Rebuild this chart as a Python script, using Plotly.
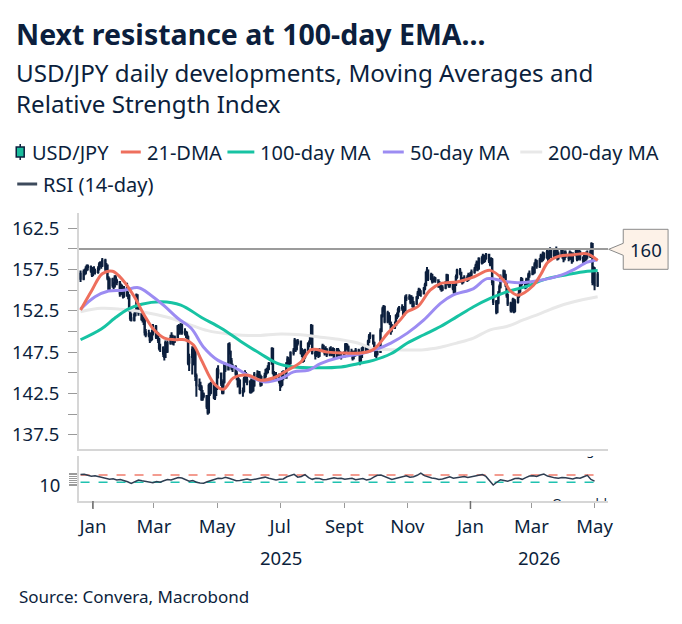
import pandas as pd
import plotly.graph_objects as go

# ---------------- DATA ----------------
# USD/JPY daily closes / highs / lows (business days from 2024-12-20), grouped by week
close_weeks = [
    [156.4],
    [157.2, 157.1, 157.6, 157.9, 157.8],
    [157.4, 156.9, 157.5, 157.3, 157.2],
    [157.6, 158.1, 158.3, 158.0, 158.6],
    [157.6, 158.0, 156.5, 155.2, 156.3],
    [155.6, 155.5, 156.5, 156.1, 156.0],
    [154.6, 155.5, 155.2, 154.3, 155.2],
    [154.4, 154.3, 152.6, 151.6, 151.4],
    [152.0, 152.4, 154.4, 152.8, 152.3],
    [151.5, 151.4, 151.5, 149.9, 149.6],
    [149.7, 149.0, 149.1, 149.8, 150.6],
    [149.4, 149.6, 149.0, 148.0, 148.0],
    [147.3, 146.9, 148.6, 147.6, 148.6],
    [149.2, 149.4, 148.7, 148.8, 149.3],
    [150.6, 149.9, 150.6, 151.0, 149.9],
    [149.8, 149.6, 149.3, 146.2, 146.9],
    [147.8, 146.3, 147.7, 144.6, 143.5],
    [143.4, 143.2, 141.8, 142.4, 142.2],
    [140.9, 140.2, 143.4, 142.6, 143.6],
    [142.0, 142.3, 143.1, 145.3, 144.9],
    [143.7, 142.6, 143.9, 145.9, 145.4],
    [148.4, 147.5, 146.4, 145.6, 145.7],
    [144.9, 144.5, 143.6, 144.0, 142.6],
    [142.8, 144.2, 144.8, 144.1, 143.9],
    [142.7, 143.9, 142.9, 143.5, 144.8],
    [144.6, 144.9, 144.6, 143.6, 144.1],
    [144.6, 145.3, 145.1, 145.5, 146.1],
    [147.9, 145.0, 144.3, 144.6, 144.7],
    [144.0, 143.5, 143.6, 144.9, 144.4],
    [146.1, 146.6, 146.3, 146.2, 147.4],
    [147.7, 148.9, 147.9, 148.6, 148.8],
    [147.4, 147.7, 146.6, 146.9, 147.7],
    [148.5, 148.5, 149.4, 150.7, 147.4],
    [147.1, 147.6, 147.4, 147.1, 147.7],
    [148.2, 147.8, 147.4, 147.8, 147.2],
    [147.8, 147.7, 147.3, 147.8, 146.9],
    [147.8, 147.4, 147.4, 147.0, 147.0],
    [147.4, 148.4, 148.1, 148.1, 147.4],
    [147.5, 146.8, 147.4, 147.2, 147.7],
    [147.4, 146.5, 146.9, 147.9, 148.0],
    [147.7, 147.9, 148.8, 149.4, 149.5],
    [148.6, 147.8, 147.1, 147.3, 147.5],
    [150.1, 151.9, 152.7, 153.0, 151.2],
    [152.2, 151.8, 151.0, 150.4, 150.6],
    [150.8, 151.9, 151.9, 152.6, 152.8],
    [152.9, 152.1, 152.6, 154.1, 154.0],
    [154.2, 153.6, 154.1, 153.1, 153.4],
    [154.1, 154.6, 155.0, 154.6, 154.6],
    [155.2, 155.6, 157.1, 157.4, 156.4],
    [156.8, 156.1, 156.2, 156.4, 156.2],
    [155.5, 155.8, 155.3, 155.1, 155.3],
    [155.9, 156.8, 155.9, 155.6, 155.8],
    [155.3, 154.8, 155.7, 156.6, 157.4],
    [157.1, 156.2, 156.0, 156.3, 156.5],
    [156.3, 156.8, 156.6, 156.9, 157.2],
    [157.5, 157.9, 158.3, 157.6, 158.8],
    [158.4, 159.1, 158.6, 158.9, 159.3],
    [158.6, 158.2, 158.7, 156.0, 153.6],
    [152.4, 153.5, 154.6, 155.4, 156.6],
    [157.3, 156.8, 155.7, 154.4, 153.4],
    [152.6, 152.9, 153.8, 152.5, 153.6],
    [154.3, 154.9, 155.6, 156.3, 155.9],
    [155.4, 156.2, 155.9, 156.8, 157.0],
    [157.6, 157.2, 158.1, 158.5, 157.9],
    [158.6, 159.1, 158.7, 159.4, 159.0],
    [159.6, 158.8, 159.5, 159.9, 159.2],
    [159.7, 159.3, 159.9, 158.9, 159.4],
    [159.8, 159.1, 158.8, 159.5, 159.2],
    [158.9, 159.5, 159.0, 158.6, 159.3],
    [159.7, 158.8, 159.2, 159.6, 158.9],
    [158.6, 159.3, 158.8, 159.4, 159.1],
    [159.6, 160.6, 156.0, 157.6, 155.6],
    [156.9],
]
high_weeks = [
    [157.4],
    [157.5, 157.6, 157.9, 158.1, 158.1],
    [158.0, 157.6, 157.8, 157.9, 157.6],
    [157.9, 158.4, 158.5, 158.4, 158.9],
    [158.8, 158.3, 158.1, 156.7, 156.5],
    [156.5, 156.0, 156.8, 156.8, 156.4],
    [156.1, 155.8, 155.7, 155.4, 155.5],
    [155.9, 154.8, 154.5, 152.9, 152.2],
    [152.3, 152.7, 154.6, 154.5, 153.1],
    [152.4, 152.0, 151.8, 151.6, 150.3],
    [150.2, 149.9, 149.6, 150.2, 150.9],
    [150.8, 150.0, 149.9, 149.2, 148.5],
    [148.2, 147.9, 148.9, 148.7, 148.9],
    [149.6, 149.9, 149.6, 149.2, 149.5],
    [150.8, 150.9, 150.8, 151.2, 151.1],
    [150.4, 150.1, 150.0, 149.5, 147.3],
    [148.2, 148.1, 148.2, 147.9, 144.9],
    [144.3, 143.9, 143.5, 142.9, 142.6],
    [142.3, 141.5, 143.7, 143.8, 143.9],
    [143.7, 142.7, 143.5, 145.6, 145.9],
    [145.0, 143.9, 144.2, 146.2, 146.2],
    [148.6, 148.7, 147.7, 146.8, 146.1],
    [145.9, 145.2, 144.7, 144.4, 144.2],
    [143.2, 144.5, 145.3, 145.1, 144.6],
    [144.1, 144.3, 144.2, 144.0, 145.1],
    [145.3, 145.2, 145.2, 144.8, 144.6],
    [145.0, 145.5, 145.6, 145.9, 146.3],
    [148.1, 148.0, 145.2, 145.0, 145.1],
    [144.9, 144.2, 144.1, 145.2, 145.3],
    [146.3, 147.0, 146.9, 146.7, 147.6],
    [148.0, 149.2, 149.0, 148.8, 149.1],
    [148.9, 148.0, 147.8, 147.2, 147.9],
    [148.7, 148.9, 149.6, 150.9, 150.8],
    [147.7, 147.8, 147.9, 147.6, 148.0],
    [148.5, 148.4, 148.0, 148.2, 148.0],
    [148.1, 148.2, 147.9, 148.1, 148.0],
    [148.0, 148.0, 147.8, 147.6, 147.5],
    [147.6, 148.6, 148.6, 148.5, 148.3],
    [147.9, 147.7, 147.6, 147.7, 148.0],
    [147.9, 147.6, 147.1, 148.1, 148.3],
    [148.2, 148.2, 149.0, 149.7, 149.9],
    [149.6, 148.8, 148.0, 147.6, 147.9],
    [150.4, 152.1, 153.0, 153.2, 153.1],
    [152.5, 152.3, 152.0, 151.2, 150.9],
    [151.2, 152.1, 152.3, 152.9, 153.1],
    [153.3, 153.1, 152.9, 154.4, 154.5],
    [154.5, 154.4, 154.4, 154.2, 153.7],
    [154.3, 154.9, 155.3, 155.2, 155.0],
    [155.4, 155.9, 157.3, 157.8, 157.5],
    [157.1, 157.0, 156.5, 156.7, 156.6],
    [156.3, 156.1, 155.9, 155.6, 155.6],
    [156.1, 157.0, 156.9, 156.1, 156.1],
    [155.9, 155.5, 155.9, 156.9, 157.6],
    [157.7, 157.2, 156.5, 156.6, 156.8],
    [156.8, 157.1, 157.0, 157.2, 157.5],
    [157.8, 158.2, 158.6, 158.5, 159.0],
    [159.1, 159.4, 159.3, 159.2, 159.5],
    [159.4, 158.9, 159.0, 158.9, 156.2],
    [153.8, 153.8, 154.9, 155.7, 156.9],
    [157.5, 157.4, 157.0, 155.9, 154.6],
    [153.6, 153.3, 154.1, 154.0, 153.9],
    [154.6, 155.2, 155.9, 156.6, 156.5],
    [156.1, 156.5, 156.4, 157.1, 157.4],
    [157.9, 157.8, 158.4, 158.8, 158.7],
    [158.9, 159.4, 159.3, 159.7, 159.6],
    [159.9, 159.8, 159.8, 160.2, 160.0],
    [160.0, 160.1, 160.3, 160.0, 159.7],
    [160.1, 160.0, 159.3, 159.8, 159.8],
    [159.4, 159.8, 159.7, 159.2, 159.6],
    [160.0, 159.9, 159.5, 159.9, 159.8],
    [159.1, 159.6, 159.5, 159.7, 159.8],
    [159.9, 160.8, 160.7, 157.9, 157.8],
    [157.2],
]
low_weeks = [
    [156.0],
    [156.2, 156.8, 156.9, 157.3, 157.4],
    [157.1, 156.6, 156.7, 157.0, 156.9],
    [157.0, 157.4, 157.8, 157.6, 157.8],
    [157.3, 157.2, 156.2, 154.9, 155.0],
    [155.3, 155.1, 155.3, 155.8, 155.6],
    [154.2, 154.4, 154.9, 154.0, 154.1],
    [154.2, 153.9, 152.4, 151.3, 151.2],
    [151.2, 151.8, 152.3, 152.6, 151.9],
    [151.3, 151.1, 150.8, 149.5, 149.3],
    [149.3, 148.6, 148.8, 148.9, 149.5],
    [149.1, 149.1, 148.6, 147.7, 147.5],
    [146.9, 146.5, 146.8, 147.4, 147.4],
    [148.4, 148.9, 148.4, 148.3, 148.6],
    [149.2, 149.7, 149.6, 150.4, 149.6],
    [149.5, 149.2, 148.9, 145.9, 145.2],
    [144.8, 145.9, 145.9, 144.0, 142.1],
    [142.9, 142.8, 141.6, 141.6, 141.9],
    [140.6, 139.9, 140.2, 142.2, 142.4],
    [141.8, 141.7, 142.2, 142.9, 144.3],
    [143.4, 142.4, 142.4, 143.7, 145.1],
    [145.3, 147.2, 146.1, 145.3, 145.1],
    [144.6, 144.1, 143.2, 143.3, 142.4],
    [142.1, 142.6, 144.0, 143.8, 143.5],
    [142.5, 142.5, 142.6, 142.7, 143.3],
    [144.3, 144.3, 144.2, 143.3, 143.4],
    [143.9, 144.4, 144.8, 144.9, 145.3],
    [146.0, 144.8, 143.9, 144.0, 144.2],
    [143.7, 142.8, 143.2, 143.4, 144.1],
    [144.3, 145.9, 145.9, 145.8, 146.0],
    [147.1, 147.6, 147.5, 147.7, 148.3],
    [147.2, 146.9, 146.2, 146.3, 146.7],
    [147.6, 148.1, 148.4, 149.3, 147.2],
    [146.6, 146.9, 147.1, 146.8, 146.9],
    [147.5, 147.5, 147.1, 147.2, 146.9],
    [147.0, 147.4, 147.0, 147.1, 146.7],
    [146.8, 147.1, 147.0, 146.7, 146.6],
    [146.8, 147.3, 147.8, 147.7, 147.2],
    [147.1, 146.5, 146.6, 146.9, 147.0],
    [147.1, 145.9, 146.3, 146.8, 147.6],
    [147.4, 147.5, 147.8, 148.6, 149.1],
    [148.4, 147.6, 146.9, 146.8, 147.1],
    [147.4, 149.9, 151.7, 152.4, 151.0],
    [151.0, 151.4, 150.8, 149.6, 149.9],
    [150.3, 150.7, 151.5, 151.7, 152.3],
    [152.5, 151.8, 151.9, 152.5, 153.7],
    [153.8, 153.3, 153.4, 152.9, 152.8],
    [153.2, 153.9, 154.4, 154.3, 154.2],
    [154.5, 155.0, 155.5, 156.9, 156.1],
    [156.2, 155.8, 155.9, 156.0, 155.9],
    [155.3, 155.3, 155.0, 154.8, 154.9],
    [155.1, 155.7, 155.6, 155.3, 155.3],
    [155.0, 154.5, 154.6, 155.5, 156.4],
    [156.8, 155.9, 155.7, 155.8, 156.1],
    [156.0, 156.1, 156.3, 156.4, 156.7],
    [157.0, 157.3, 157.7, 157.3, 157.5],
    [158.1, 158.2, 158.3, 158.4, 158.7],
    [158.3, 157.9, 158.0, 155.6, 153.2],
    [152.1, 152.2, 153.3, 154.4, 155.2],
    [156.4, 156.5, 155.4, 154.1, 153.1],
    [152.3, 152.3, 152.7, 152.2, 152.3],
    [153.4, 154.1, 154.7, 155.4, 155.6],
    [155.1, 155.2, 155.6, 155.7, 156.5],
    [156.8, 156.9, 157.0, 157.9, 157.6],
    [157.7, 158.4, 158.4, 158.5, 158.7],
    [158.8, 158.5, 158.6, 159.3, 158.9],
    [159.0, 159.0, 159.1, 158.6, 158.7],
    [159.2, 158.8, 158.4, 158.6, 158.9],
    [158.5, 158.7, 158.7, 158.2, 158.4],
    [159.1, 158.5, 158.6, 159.0, 158.6],
    [158.1, 158.4, 158.5, 158.6, 158.8],
    [158.9, 159.4, 155.6, 155.7, 155.0],
    [155.4],
]
first_open = 157.0

ma21_dates = ["2024-12-20", "2024-12-31", "2025-01-10", "2025-01-20", "2025-01-30", "2025-02-10",
              "2025-02-20", "2025-03-01", "2025-03-11", "2025-03-21", "2025-03-31", "2025-04-08",
              "2025-04-16", "2025-04-28", "2025-05-07", "2025-05-17", "2025-05-31", "2025-06-12",
              "2025-06-25", "2025-07-08", "2025-07-21", "2025-07-31", "2025-08-16", "2025-08-29",
              "2025-09-17", "2025-09-29", "2025-10-13", "2025-10-25", "2025-11-01", "2025-11-11",
              "2025-11-23", "2025-12-03", "2025-12-19", "2026-01-04", "2026-01-20", "2026-02-02",
              "2026-02-08", "2026-02-16", "2026-03-03", "2026-03-10", "2026-03-17", "2026-03-27",
              "2026-04-11", "2026-04-24", "2026-05-04"]
ma21_vals = [152.6, 155.0, 157.0, 157.3, 156.2, 154.2,
             151.9, 150.2, 149.2, 149.0, 149.0, 148.4,
             146.5, 143.7, 143.0, 144.4, 144.7, 144.1,
             144.4, 145.3, 146.3, 147.8, 147.5, 147.4,
             147.4, 147.8, 149.8, 151.4, 152.4, 153.0,
             155.0, 155.8, 156.0, 156.6, 157.4, 156.2,
             155.0, 154.4, 155.6, 156.9, 158.4, 159.1,
             159.3, 159.4, 158.6]

ma50_dates = ["2024-12-20", "2025-01-03", "2025-01-16", "2025-01-31", "2025-02-14", "2025-02-26",
              "2025-03-11", "2025-03-24", "2025-04-06", "2025-04-18", "2025-05-02", "2025-05-17",
              "2025-06-03", "2025-06-15", "2025-07-02", "2025-07-14", "2025-07-28", "2025-08-09",
              "2025-08-29", "2025-09-17", "2025-10-03", "2025-10-16", "2025-11-01", "2025-11-17",
              "2025-12-03", "2025-12-15", "2026-01-04", "2026-01-17", "2026-02-02", "2026-02-18",
              "2026-03-10", "2026-03-29", "2026-04-11", "2026-04-24", "2026-05-04"]
ma50_vals = [152.7, 154.2, 154.9, 155.0, 155.3, 154.4,
             153.1, 151.6, 150.4, 148.1, 146.5, 145.7,
             144.5, 143.9, 144.3, 145.1, 145.3, 146.1,
             146.9, 147.3, 147.9, 148.6, 149.8, 151.4,
             153.4, 154.4, 155.2, 156.4, 156.1, 155.9,
             156.2, 156.8, 157.5, 158.4, 158.7]

ma100_dates = ["2024-12-20", "2025-01-09", "2025-01-22", "2025-02-04", "2025-02-17", "2025-03-08",
               "2025-03-27", "2025-04-16", "2025-05-05", "2025-05-24", "2025-06-12", "2025-06-29",
               "2025-07-14", "2025-08-06", "2025-08-29", "2025-09-14", "2025-09-29", "2025-10-16",
               "2025-11-01", "2025-11-17", "2025-12-03", "2025-12-19", "2026-01-04", "2026-01-20",
               "2026-02-05", "2026-02-25", "2026-03-16", "2026-04-05", "2026-04-24", "2026-05-04"]
ma100_vals = [149.0, 150.3, 151.6, 152.7, 153.3, 153.6,
              153.2, 151.7, 150.4, 148.8, 147.3, 146.1,
              145.7, 145.6, 145.7, 146.1, 146.5, 147.3,
              148.6, 149.6, 150.6, 151.8, 153.0, 154.0,
              154.8, 155.5, 156.4, 156.9, 157.3, 157.4]

ma200_dates = ["2024-12-20", "2025-01-09", "2025-01-28", "2025-02-17", "2025-03-15", "2025-04-03",
               "2025-04-22", "2025-05-12", "2025-06-06", "2025-07-02", "2025-07-21", "2025-08-09",
               "2025-08-29", "2025-09-14", "2025-09-29", "2025-10-16", "2025-11-17", "2025-12-03",
               "2025-12-19", "2026-01-04", "2026-01-20", "2026-02-05", "2026-02-21", "2026-03-10",
               "2026-03-26", "2026-04-11", "2026-05-04"]
ma200_vals = [152.4, 152.8, 152.7, 152.4, 151.7, 150.9,
              150.1, 149.7, 149.5, 149.7, 149.6, 149.3,
              149.0, 148.6, 147.9, 147.8, 147.8, 148.1,
              148.6, 149.2, 150.2, 150.6, 151.4, 152.2,
              153.0, 153.6, 154.2]

# RSI (14-day), twice-weekly readings from 2024-12-20
rsi_vals = [72, 74, 68, 63, 66, 60, 55, 50, 46, 49,
            42, 45, 40, 33, 24, 35, 42, 38, 34, 30,
            28, 34, 30, 38, 45, 42, 50, 56, 53, 44,
            36, 40, 30, 26, 25, 33, 40, 47, 52, 50,
            57, 52, 44, 38, 40, 45, 48, 42, 45, 50,
            55, 58, 52, 46, 42, 46, 48, 60, 68, 73,
            58, 62, 72, 55, 46, 52, 50, 44, 45, 52,
            55, 50, 52, 46, 48, 52, 44, 47, 50, 43,
            46, 58, 68, 70, 62, 52, 45, 50, 55, 61,
            66, 58, 60, 68, 80, 66, 58, 53, 50, 45,
            48, 55, 60, 52, 55, 59, 62, 56, 58, 64,
            68, 72, 62, 40, 15, 30, 44, 40, 36, 42,
            50, 52, 46, 55, 64, 66, 62, 70, 75, 64,
            58, 54, 52, 56, 55, 50, 48, 54, 52, 60,
            68, 45, 36]
rsi_overbought = 70
rsi_oversold = 30

month_ticks = ["2025-01-01", "2025-03-01", "2025-05-01", "2025-07-01", "2025-09-01",
               "2025-11-01", "2026-01-01", "2026-03-01", "2026-05-01"]
month_labels = ["Jan", "Mar", "May", "Jul", "Sept", "Nov", "Jan", "Mar", "May"]
year_labels = ["2025", "2026"]
year_pos = ["2025-07-02", "2026-03-08"]

y_tickvals = [137.5, 140, 142.5, 145, 147.5, 150, 152.5, 155, 157.5, 160, 162.5]
y_ticktext = ["137.5", "", "142.5", "", "147.5", "", "152.5", "", "157.5", "", "162.5"]
resistance = 160

# ---------------- STYLE / LAYOUT HELPERS ----------------
W, H = 682, 624
PL, PR, PT, PB = 77, 608, 213, 501


def fx(x):
    return (x - PL) / (PR - PL)


def fy(y):
    return (PB - y) / (PB - PT)


NAVY = "#0c1f3d"
FONT = "Noto Sans"
C21, C50, C100, C200 = "#ee6f5d", "#9c8cf2", "#17c3a3", "#e8e8e8"
CRSI = "#2e3e52"
GRID = "#d6d6d6"

close = [c for wk in close_weeks for c in wk]
highs = [c for wk in high_weeks for c in wk]
lows = [c for wk in low_weeks for c in wk]
dates = pd.bdate_range("2024-12-20", periods=len(close))
opens = [first_open] + close[:-1]
rsi_dates = pd.date_range("2024-12-20", periods=len(rsi_vals), freq="84h")

fig = go.Figure()

for d, v, col in [(ma200_dates, ma200_vals, C200), (ma100_dates, ma100_vals, C100),
                  (ma50_dates, ma50_vals, C50), (ma21_dates, ma21_vals, C21)]:
    fig.add_trace(go.Scatter(x=d, y=v, mode="lines", line=dict(color=col, width=3, shape="spline",
                                                                smoothing=1.0),
                             showlegend=False, hoverinfo="skip", xaxis="x", yaxis="y"))

fig.add_trace(go.Candlestick(x=dates, open=opens, high=highs, low=lows, close=close,
                             increasing=dict(line=dict(color=NAVY, width=2), fillcolor=NAVY),
                             decreasing=dict(line=dict(color=NAVY, width=2), fillcolor=NAVY),
                             showlegend=False, xaxis="x", yaxis="y"))

# RSI panel
rsi_span = [dates[0], dates[-1]]
fig.add_trace(go.Scatter(x=rsi_span, y=[rsi_overbought] * 2, mode="lines",
                         line=dict(color="#f07c6c", width=1.5, dash="dash"),
                         showlegend=False, hoverinfo="skip", xaxis="x2", yaxis="y2"))
fig.add_trace(go.Scatter(x=rsi_span, y=[rsi_oversold] * 2, mode="lines",
                         line=dict(color="#1fc2b0", width=1.5, dash="dash"),
                         showlegend=False, hoverinfo="skip", xaxis="x2", yaxis="y2"))
fig.add_trace(go.Scatter(x=rsi_dates, y=rsi_vals, mode="lines", line=dict(color=CRSI, width=1.5),
                         showlegend=False, hoverinfo="skip", xaxis="x2", yaxis="y2"))
fig.add_trace(go.Scatter(x=["2026-05-13", "2026-05-13"], y=[196, -95], mode="text",
                         text=["Overbought", "Oversold"], textposition="middle left",
                         textfont=dict(family=FONT, size=13, color=NAVY), cliponaxis=True,
                         showlegend=False, hoverinfo="skip", xaxis="x2", yaxis="y2"))

xrange = ["2024-12-18 12:00", "2026-05-14"]
axfont = dict(family=FONT, size=18.5, color=NAVY)

fig.update_layout(
    width=W, height=H,
    margin=dict(l=PL, r=W - PR, t=PT, b=H - PB, pad=0),
    paper_bgcolor="white", plot_bgcolor="white",
    showlegend=False,
    xaxis=dict(domain=[0, 1], anchor="y", range=xrange, type="date",
               showticklabels=False, ticks="", showgrid=False, zeroline=False,
               showline=True, linecolor=GRID, linewidth=2,
               rangeslider=dict(visible=False)),
    xaxis2=dict(domain=[0, 1], anchor="y2", range=xrange, type="date", matches="x",
                tickvals=month_ticks, ticktext=month_labels, ticks="outside", ticklen=5,
                tickcolor="#9a9a9a", tickwidth=1, tickfont=axfont, ticklabelstandoff=3,
                showgrid=False, zeroline=False, showline=True, linecolor=GRID, linewidth=2),
    yaxis=dict(domain=[fy(449.3), 1], anchor="x", range=[135.73, 164.35],
               tickvals=y_tickvals, ticktext=y_ticktext, ticks="outside", ticklen=9,
               tickcolor="#9a9a9a", tickwidth=1, tickfont=axfont, ticklabelstandoff=5,
               showgrid=False, zeroline=False, showline=True, linecolor=GRID, linewidth=2),
    yaxis2=dict(domain=[0, fy(456)], anchor="x2", range=[-72.7, 173.8],
                tickvals=[10, 20, 30, 40, 50, 60, 70, 80],
                ticktext=["10", "", "", "", "", "", "", ""], ticks="outside", ticklen=8,
                tickcolor="#9a9a9a", tickwidth=1, tickfont=axfont, ticklabelstandoff=5,
                showgrid=False, zeroline=False, showline=True, linecolor=GRID, linewidth=2),
)

shapes = []
ann = []

# resistance line
shapes.append(dict(type="line", xref="paper", yref="y", x0=0, x1=1, y0=resistance, y1=resistance,
                   line=dict(color="#9b9b9b", width=2)))

# callout box for 160
ty = 249.3
pts = [(608.7, ty), (623.3, ty - 6), (623.3, 229.3), (668.3, 229.3), (668.3, 269.3),
       (623.3, 269.3), (623.3, ty + 6)]
path = "M " + " L ".join(f"{fx(a):.5f},{fy(b):.5f}" for a, b in pts) + " Z"
shapes.append(dict(type="path", xref="paper", yref="paper", path=path,
                   fillcolor="#fdf2e8", line=dict(color="#8a8a8a", width=1)))
ann.append(dict(xref="paper", yref="paper", x=fx(645.8), y=fy(ty), text=str(resistance),
                showarrow=False, xanchor="center", yanchor="middle",
                font=dict(family=FONT, size=18.5, color=NAVY)))

# longer ticks at year boundaries
for d in ["2025-01-01", "2026-01-01"]:
    shapes.append(dict(type="line", xref="x2", yref="paper", x0=d, x1=d, y0=fy(501), y1=fy(509),
                       line=dict(color="#6e6e6e", width=1.5)))

# year labels
for t, d in zip(year_labels, year_pos):
    ann.append(dict(xref="x2", yref="paper", x=d, y=fy(557), text=t, showarrow=False,
                    xanchor="center", yanchor="middle", font=axfont))

# titles
ann.append(dict(xref="paper", yref="paper", x=fx(12), y=fy(34), text="<b>Next resistance at 100-day EMA...</b>",
                showarrow=False, xanchor="left", yanchor="middle",
                font=dict(family=FONT, size=28.5, color=NAVY)))
ann.append(dict(xref="paper", yref="paper", x=fx(12), y=fy(72),
                text="USD/JPY daily developments, Moving Averages and",
                showarrow=False, xanchor="left", yanchor="middle",
                font=dict(family=FONT, size=24.2, color=NAVY)))
ann.append(dict(xref="paper", yref="paper", x=fx(12), y=fy(104), text="Relative Strength Index",
                showarrow=False, xanchor="left", yanchor="middle",
                font=dict(family=FONT, size=24.2, color=NAVY)))
ann.append(dict(xref="paper", yref="paper", x=fx(15), y=fy(596), text="Source: Convera, Macrobond",
                showarrow=False, xanchor="left", yanchor="middle",
                font=dict(family=FONT, size=17, color=NAVY)))

# manual legend
lf = dict(family=FONT, size=20, color=NAVY)
# candle icon
shapes.append(dict(type="line", xref="paper", yref="paper", x0=fx(18), x1=fx(18), y0=fy(144), y1=fy(160),
                   line=dict(color=NAVY, width=1.5)))
shapes.append(dict(type="rect", xref="paper", yref="paper", x0=fx(14), x1=fx(22), y0=fy(147), y1=fy(157),
                   fillcolor="#1abc9c", line=dict(color=NAVY, width=1.5)))
ann.append(dict(xref="paper", yref="paper", x=fx(28), y=fy(152), text="USD/JPY", showarrow=False,
                xanchor="left", yanchor="middle", font=lf))
legend_items = [("21-DMA", C21, 119, 139, 152), ("100-day MA", C100, 226, 253, 152),
                ("50-day MA", C50, 382, 403, 152), ("200-day MA", C200, 520, 542, 152),
                ("RSI (14-day)", "#3d4a5c", 15, 35, 184)]
for name, col, x0, x1, yy in legend_items:
    shapes.append(dict(type="line", xref="paper", yref="paper", x0=fx(x0), x1=fx(x1), y0=fy(yy), y1=fy(yy),
                       line=dict(color=col, width=3)))
    ann.append(dict(xref="paper", yref="paper", x=fx(x1 + 4), y=fy(yy), text=name, showarrow=False,
                    xanchor="left", yanchor="middle", font=lf))

fig.update_layout(shapes=shapes, annotations=ann)
fig.write_html("out.html")
